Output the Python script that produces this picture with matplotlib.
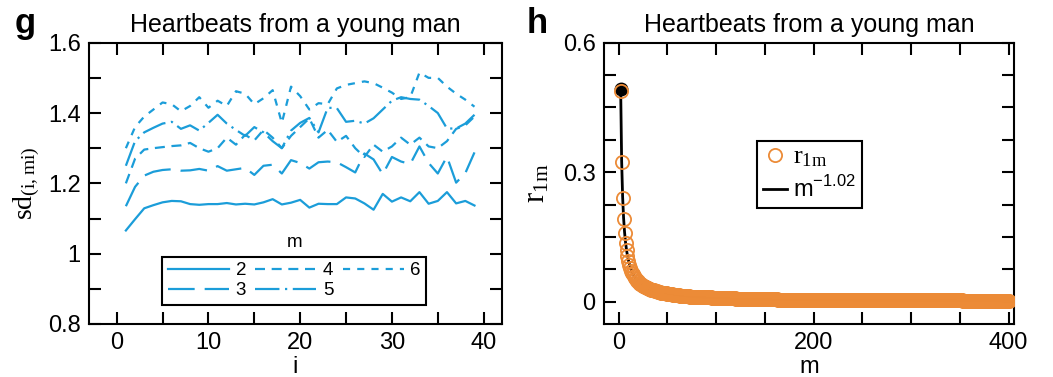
import matplotlib
matplotlib.use('Agg')
import matplotlib.pyplot as plt
from matplotlib.ticker import MultipleLocator, FormatStrFormatter

plt.rcParams['font.family'] = ['Liberation Sans', 'DejaVu Sans']
plt.rcParams['mathtext.fontset'] = 'custom'
plt.rcParams['mathtext.rm'] = 'Liberation Sans'

BLUE = '#1b9dd9'
ORANGE = '#ec8b37'

# panel g: sd(i, mi) for embedding sizes m = 2..6
i_vals = list(range(1, 40))
sd_m2 = [1.066, 1.098, 1.129, 1.138, 1.146, 1.150, 1.149, 1.141, 1.139, 1.141,
         1.141, 1.144, 1.140, 1.142, 1.140, 1.146, 1.155, 1.140, 1.145, 1.153,
         1.131, 1.142, 1.141, 1.141, 1.160, 1.157, 1.143, 1.125, 1.170, 1.148,
         1.160, 1.149, 1.175, 1.142, 1.150, 1.175, 1.143, 1.150, 1.137]
sd_m3 = [1.135, 1.190, 1.222, 1.233, 1.238, 1.240, 1.236, 1.237, 1.241, 1.236,
         1.249, 1.236, 1.240, 1.244, 1.224, 1.250, 1.253, 1.228, 1.266, 1.258,
         1.242, 1.260, 1.262, 1.260, 1.246, 1.231, 1.285, 1.268, 1.226, 1.275,
         1.262, 1.255, 1.305, 1.258, 1.228, 1.276, 1.202, 1.229, 1.288]
sd_m4 = [1.200, 1.270, 1.296, 1.300, 1.303, 1.306, 1.308, 1.315, 1.300, 1.290,
         1.300, 1.330, 1.310, 1.338, 1.322, 1.352, 1.330, 1.300, 1.335, 1.360,
         1.385, 1.330, 1.352, 1.318, 1.335, 1.300, 1.275, 1.310, 1.290, 1.305,
         1.330, 1.310, 1.330, 1.305, 1.300, 1.320, 1.355, 1.365, 1.390]
sd_m5 = [1.250, 1.320, 1.345, 1.358, 1.370, 1.375, 1.355, 1.365, 1.350, 1.372,
         1.395, 1.370, 1.352, 1.335, 1.360, 1.345, 1.320, 1.300, 1.350, 1.372,
         1.386, 1.345, 1.415, 1.414, 1.375, 1.378, 1.370, 1.385, 1.410, 1.435,
         1.445, 1.440, 1.438, 1.420, 1.400, 1.356, 1.356, 1.370, 1.395]
sd_m6 = [1.300, 1.360, 1.390, 1.410, 1.430, 1.425, 1.405, 1.420, 1.445, 1.415,
         1.435, 1.420, 1.462, 1.455, 1.425, 1.442, 1.465, 1.372, 1.475, 1.448,
         1.410, 1.428, 1.425, 1.470, 1.480, 1.485, 1.490, 1.485, 1.472, 1.458,
         1.440, 1.445, 1.515, 1.500, 1.500, 1.475, 1.455, 1.438, 1.418]
m_labels = ['2', '3', '4', '5', '6']
sd_series = [sd_m2, sd_m3, sd_m4, sd_m5, sd_m6]
line_styles = ['-', (0, (12, 4.5)), (0, (4.5, 3)), (0, (11, 2.5, 1, 2.5)), (0, (3.2, 3.2))]

# panel h: r_1m for m = 2..400
m_vals = list(range(2, 401))
r_1m = [
    # m = 2..40
    .488, .323, .241, .192, .159, .136, .119, .105, .095, .086,
    .079, .072, .067, .063, .059, .055, .052, .049, .047, .044,
    .042, .040, .039, .037, .036, .034, .033, .032, .031, .030,
    .029, .028, .027, .026, .026, .025, .024, .024, .023,
    # m = 41..60
    .022, .022, .021, .021, .020, .020, .020, .019, .019, .018,
    .018, .018, .017, .017, .017, .016, .016, .016, .015, .015,
    # m = 61..80
    .015, .015, .014, .014, .014, .014, .014, .013, .013, .013,
    .013, .013, .012, .012, .012, .012, .012, .012, .011, .011,
    # m = 81..100
    .011, .011, .011, .011, .011, .011, .010, .010, .010, .010,
    .010, .010, .010, .010, .010, .009, .009, .009, .009, .009,
    # m = 101..120
    .009, .009, .009, .009, .009, .009, .008, .008, .008, .008,
    .008, .008, .008, .008, .008, .008, .008, .008, .008, .007,
    # m = 121..140
    .007, .007, .007, .007, .007, .007, .007, .007, .007, .007,
    .007, .007, .007, .007, .007, .007, .007, .006, .006, .006,
    # m = 141..160
    .006, .006, .006, .006, .006, .006, .006, .006, .006, .006,
    .006, .006, .006, .006, .006, .006, .006, .006, .006, .006,
    # m = 161..180
    .006, .006, .005, .005, .005, .005, .005, .005, .005, .005,
    .005, .005, .005, .005, .005, .005, .005, .005, .005, .005,
    # m = 181..200
    .005, .005, .005, .005, .005, .005, .005, .005, .005, .005,
    .005, .005, .005, .005, .005, .005, .005, .004, .004, .004,
    # m = 201..220
    .004, .004, .004, .004, .004, .004, .004, .004, .004, .004,
    .004, .004, .004, .004, .004, .004, .004, .004, .004, .004,
    # m = 221..240
    .004, .004, .004, .004, .004, .004, .004, .004, .004, .004,
    .004, .004, .004, .004, .004, .004, .004, .004, .004, .004,
    # m = 241..260
    .004, .004, .004, .004, .004, .004, .004, .004, .004, .004,
    .004, .004, .004, .003, .003, .003, .003, .003, .003, .003,
    # m = 261..280
    .003, .003, .003, .003, .003, .003, .003, .003, .003, .003,
    .003, .003, .003, .003, .003, .003, .003, .003, .003, .003,
    # m = 281..300
    .003, .003, .003, .003, .003, .003, .003, .003, .003, .003,
    .003, .003, .003, .003, .003, .003, .003, .003, .003, .003,
    # m = 301..320
    .003, .003, .003, .003, .003, .003, .003, .003, .003, .003,
    .003, .003, .003, .003, .003, .003, .003, .003, .003, .003,
    # m = 321..340
    .003, .003, .003, .003, .003, .003, .003, .003, .003, .003,
    .003, .003, .003, .003, .003, .003, .003, .003, .003, .003,
    # m = 341..360
    .003, .003, .003, .003, .003, .003, .003, .003, .003, .003,
    .003, .003, .002, .002, .002, .002, .002, .002, .002, .002,
    # m = 361..380
    .002, .002, .002, .002, .002, .002, .002, .002, .002, .002,
    .002, .002, .002, .002, .002, .002, .002, .002, .002, .002,
    # m = 381..400
    .002, .002, .002, .002, .002, .002, .002, .002, .002, .002,
    .002, .002, .002, .002, .002, .002, .002, .002, .002, .002,
]
fit_exponent = -1.02
fit_vals = [m ** fit_exponent for m in m_vals]


def style_axes(ax):
    for s in ax.spines.values():
        s.set_linewidth(1.5)
    ax.tick_params(which='both', direction='in', top=True, right=True,
                   length=8.5, width=1.5, labelsize=17, pad=6)


fig = plt.figure(figsize=(10.53, 3.77), dpi=100)
ax1 = fig.add_axes([89 / 1053, 53 / 377, 413 / 1053, 281.3 / 377])
ax2 = fig.add_axes([604 / 1053, 53 / 377, 410 / 1053, 281.3 / 377])

# ---- panel g
for vals, lab, ls in zip(sd_series, m_labels, line_styles):
    ax1.plot(i_vals, vals, color=BLUE, lw=1.6, linestyle=ls, label=lab)
ax1.set_xlim(-3.02, 42)
ax1.set_ylim(0.8, 1.6)
ax1.xaxis.set_major_locator(MultipleLocator(10))
ax1.xaxis.set_minor_locator(MultipleLocator(5))
ax1.yaxis.set_major_locator(MultipleLocator(0.2))
ax1.yaxis.set_minor_locator(MultipleLocator(0.1))
ax1.yaxis.set_major_formatter(FormatStrFormatter('%g'))
style_axes(ax1)
ax1.set_title('Heartbeats from a young man', fontsize=18, pad=8)
ax1.set_xlabel('i', fontsize=17, labelpad=1)
ax1.set_ylabel(r'$\mathregular{sd_{(i,mi)}}$', fontfamily='Liberation Serif',
               fontsize=20, labelpad=4)
leg1 = ax1.legend(ncol=3, loc='lower center', bbox_to_anchor=(0.4975, 0.068),
                  borderaxespad=0, fontsize=13.5, handlelength=3.25,
                  handletextpad=0.35, columnspacing=0.5, labelspacing=0.15,
                  borderpad=0.3, fancybox=False, framealpha=1, edgecolor='k')
leg1.get_frame().set_linewidth(1.5)
ax1.text(0.499, 0.288, 'm', transform=ax1.transAxes, ha='center', va='center',
         fontsize=13.5)

# ---- panel h
ax2.plot(m_vals, fit_vals, color='k', lw=2, label=r'm$^{-1.02}$', zorder=2)
ax2.plot(m_vals[:1], fit_vals[:1], 'o', color='k', ms=9, zorder=2)
ax2.plot(m_vals, r_1m, 'o', mfc='none', mec=ORANGE, ms=9.5, mew=1.3,
         label=r'$\mathregular{r_{1m}}$', zorder=3)
ax2.set_xlim(-15.1, 405.5)
ax2.set_ylim(-0.0517, 0.6)
ax2.xaxis.set_major_locator(MultipleLocator(200))
ax2.xaxis.set_minor_locator(MultipleLocator(50))
ax2.yaxis.set_major_locator(MultipleLocator(0.3))
ax2.yaxis.set_minor_locator(MultipleLocator(0.075))
ax2.yaxis.set_major_formatter(FormatStrFormatter('%g'))
style_axes(ax2)
ax2.set_title('Heartbeats from a young man', fontsize=18, pad=8)
ax2.set_xlabel('m', fontsize=17, labelpad=1)
ax2.set_ylabel(r'$\mathregular{r_{1m}}$', fontfamily='Liberation Serif',
               fontsize=22, labelpad=8)
h, l = ax2.get_legend_handles_labels()
leg2 = ax2.legend([h[1], h[0]], [l[1], l[0]], loc='center',
                  bbox_to_anchor=(0.501, 0.532), fontsize=17,
                  handlelength=1.05, handletextpad=0.25, labelspacing=0.3,
                  borderpad=0.25, fancybox=False, framealpha=1, edgecolor='k')
leg2.get_frame().set_linewidth(1.5)
leg2.get_texts()[0].set_fontfamily('Liberation Serif')
leg2.get_texts()[0].set_fontsize(19)

fig.text(15 / 1053, 1 - 33 / 377, 'g', fontsize=25, fontweight='bold', va='baseline')
fig.text(527 / 1053, 1 - 33 / 377, 'h', fontsize=25, fontweight='bold', va='baseline')

fig.savefig('out.png', dpi=100)
